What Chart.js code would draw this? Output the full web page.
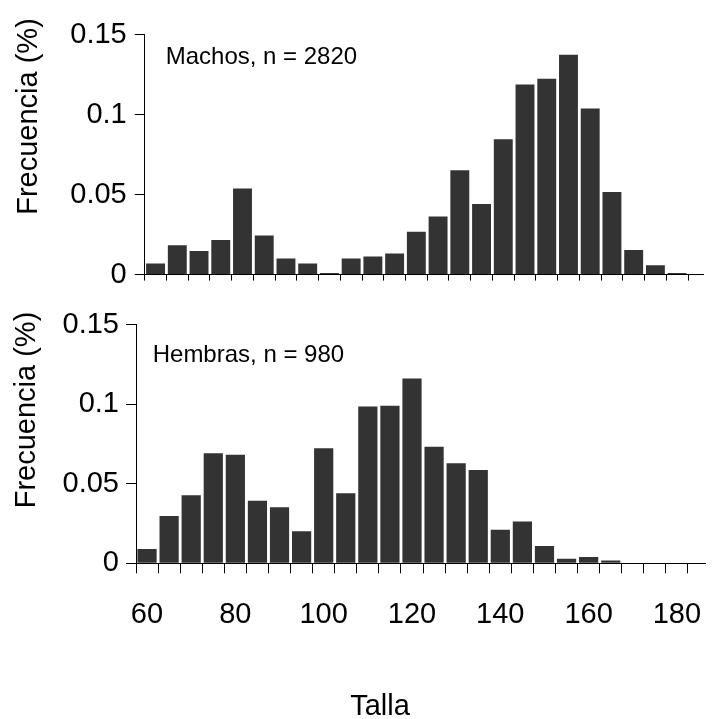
<!DOCTYPE html>
<html>
<head>
<meta charset="utf-8">
<script src="https://cdn.jsdelivr.net/npm/chart.js@4"></script>
<style>
    body { margin: 0; background: #fff; width: 712px; height: 719px; position: relative; overflow: hidden; }
    canvas { position: absolute; left: 0; }
    #top { top: 0; }
    #bottom { top: 300px; }
</style>
</head>
<body>
<canvas id="top" width="712" height="300"></canvas>
<canvas id="bottom" width="712" height="419"></canvas>
<script>
// bins of 5 cm, start of each bin
const binStarts = [60, 65, 70, 75, 80, 85, 90, 95, 100, 105, 110, 115, 120,
                   125, 130, 135, 140, 145, 150, 155, 160, 165, 170, 175, 180];
const machos = [0.0070, 0.0183, 0.0148, 0.0216, 0.0539, 0.0245, 0.0101, 0.0070, 0.0010,
                0.0101, 0.0113, 0.0132, 0.0268, 0.0364, 0.0652, 0.0442, 0.0846, 0.1188,
                0.1225, 0.1375, 0.1039, 0.0517, 0.0154, 0.0058, 0.0010];
const hembras = [0.0090, 0.0297, 0.0428, 0.0692, 0.0683, 0.0394, 0.0352, 0.0201, 0.0723,
                 0.0440, 0.0985, 0.0991, 0.1161, 0.0733, 0.0629, 0.0587, 0.0211, 0.0262,
                 0.0109, 0.0029, 0.0040, 0.0017, 0, 0, 0];
const yTicks = [0, 0.05, 0.1, 0.15];
const xLabels = [60, 80, 100, 120, 140, 160, 180];
const binEdges = binStarts.concat([binStarts[binStarts.length - 1] + 5]);

const FONT = "'Liberation Sans', Arial, sans-serif";

const textPlugin = {
    id: "texts",
    afterDraw(chart, args, o) {
        const ctx = chart.ctx;
        ctx.save();
        ctx.fillStyle = "#000";
        ctx.textBaseline = "alphabetic";

        ctx.font = "24px " + FONT;
        ctx.textAlign = "left";
        ctx.fillText(o.note, o.noteX, o.noteY);

        ctx.font = "29px " + FONT;
        ctx.save();
        ctx.translate(o.yTitleX, o.yTitleY);
        ctx.rotate(-Math.PI / 2);
        ctx.textAlign = "center";
        ctx.fillText("Frecuencia (%)", 0, 0);
        ctx.restore();

        if (o.xTitle) {
            ctx.textAlign = "center";
            ctx.fillText(o.xTitle, o.xTitleX, o.xTitleY);
        }
        ctx.restore();
    }
};

function makeChart(id, values, g) {
    const ctx = document.getElementById(id).getContext("2d");
    return new Chart(ctx, {
        type: "bar",
        data: {
            datasets: [{
                data: binStarts.map((b, i) => ({ x: b + 2.5, y: values[i] })),
                backgroundColor: "#333333",
                borderWidth: 0,
                barPercentage: 0.87,
                categoryPercentage: 1
            }]
        },
        options: {
            responsive: false,
            animation: false,
            devicePixelRatio: 1,
            layout: { padding: { top: g.padTop, left: 0, right: 0, bottom: 0 } },
            plugins: {
                legend: { display: false },
                tooltip: { enabled: false },
                texts: g.texts
            },
            scales: {
                x: {
                    type: "linear",
                    min: 60,
                    max: g.xMax,
                    offset: false,
                    afterBuildTicks: s => { s.ticks = binEdges.map(v => ({ value: v })); },
                    afterFit: s => { s.height = g.xAxisHeight; },
                    grid: { offset: false, drawOnChartArea: false, drawTicks: true, tickLength: g.xTickLen, color: "#000" },
                    border: { display: true, color: "#000", width: 1 },
                    ticks: {
                        autoSkip: false,
                        maxRotation: 0,
                        padding: 24,
                        labelOffset: 11,
                        color: "#000",
                        font: { family: FONT, size: 29 },
                        callback: v => (g.showX && xLabels.includes(v)) ? String(v) : ""
                    }
                },
                y: {
                    min: 0,
                    max: 0.15,
                    afterBuildTicks: s => { s.ticks = yTicks.map(v => ({ value: v })); },
                    afterFit: s => { s.width = g.yAxisWidth; },
                    grid: { drawOnChartArea: false, tickLength: 10, color: "#000" },
                    border: { display: true, color: "#000", width: 1 },
                    ticks: {
                        padding: g.yPad,
                        color: "#000",
                        font: { family: FONT, size: 29 },
                        callback: v => String(+v.toFixed(2))
                    }
                }
            }
        },
        plugins: [textPlugin]
    });
}

makeChart("top", machos, {
    padTop: 34.7, xAxisHeight: 22.3, yAxisWidth: 144.7, xMax: 188.55,
    xTickLen: 6, yPad: 8, showX: false,
    texts: { note: "Machos, n = 2820", noteX: 165.7, noteY: 64.3, yTitleX: 36.7, yTitleY: 116.5 }
});

makeChart("bottom", hembras, {
    padTop: 24.7, xAxisHeight: 155.7, yAxisWidth: 136, xMax: 188.86,
    xTickLen: 10, yPad: 7, showX: true,
    texts: { note: "Hembras, n = 980", noteX: 152.7, noteY: 61.7, yTitleX: 35, yTitleY: 110,
             xTitle: "Talla", xTitleX: 380, xTitleY: 415 }
});
</script>
</body>
</html>
